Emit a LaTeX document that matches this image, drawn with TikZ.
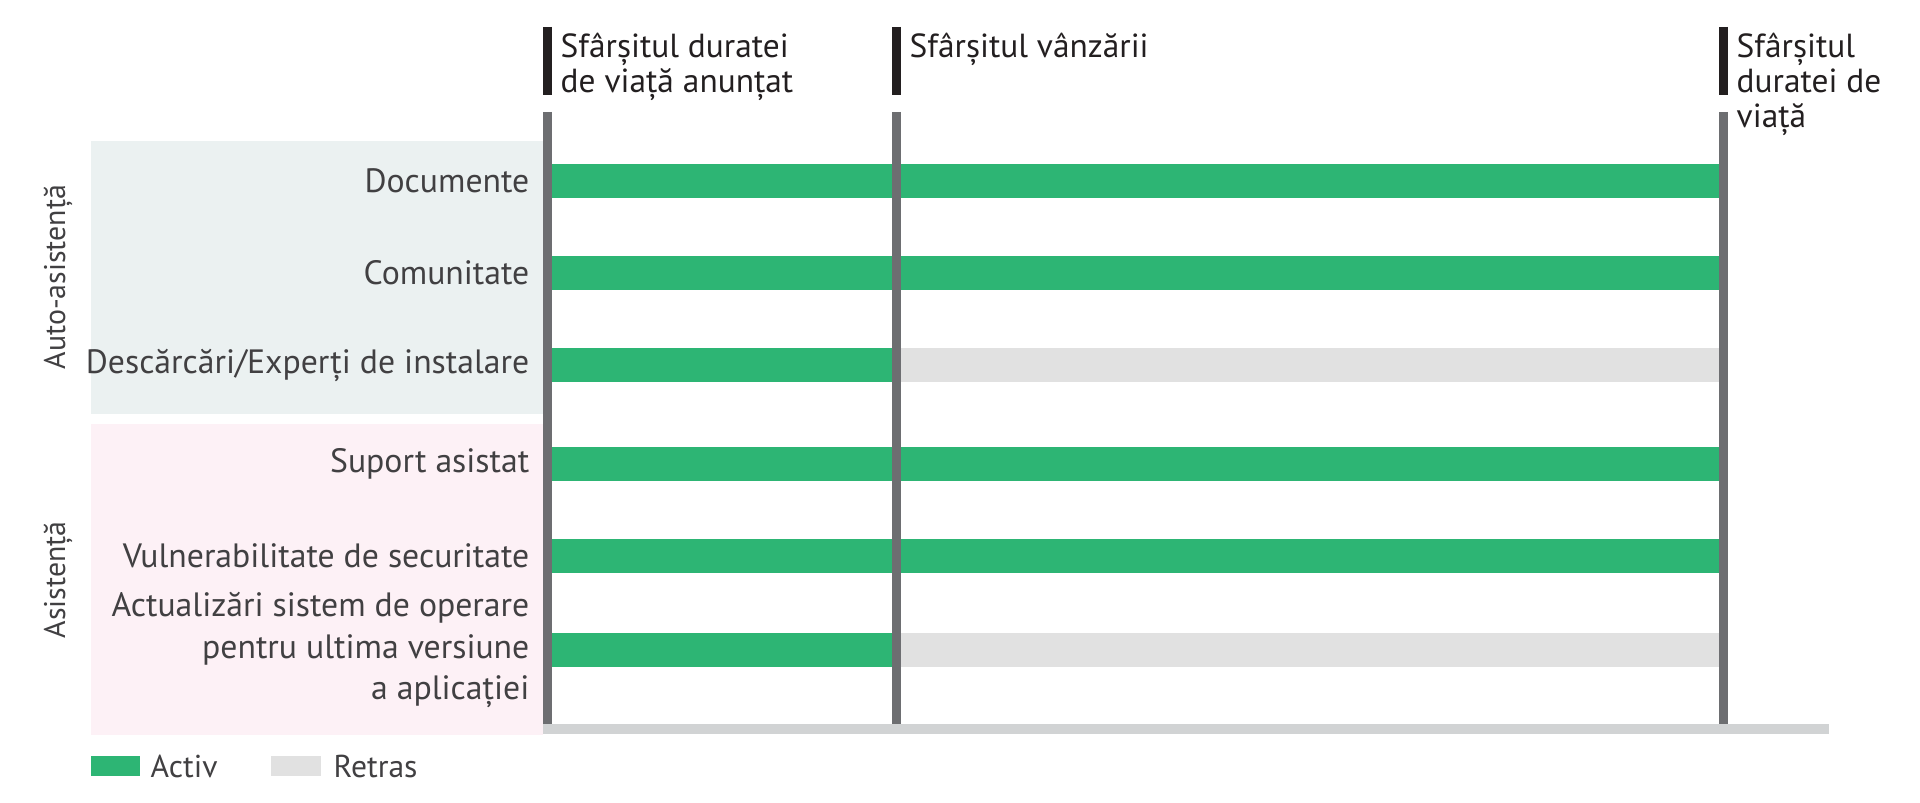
\documentclass[tikz,border=0pt]{standalone}
\usepackage{fontspec}
\setmainfont{PT Sans}
\usepackage{tikz}
\usetikzlibrary{positioning}
\definecolor{cvverde}{HTML}{2DB574}
\definecolor{cvretras}{HTML}{E1E1E1}
\definecolor{cvlinie}{HTML}{6D6E71}
\definecolor{cvnegru}{HTML}{231F20}
\definecolor{cvax}{HTML}{D1D3D4}
\definecolor{cvauto}{HTML}{EBF1F1}
\definecolor{cvasist}{HTML}{FDF1F6}
\definecolor{cvtext}{HTML}{414042}
\tikzset{
  cvactiv/.style={fill=cvverde, draw=none},
  cvinactiv/.style={fill=cvretras, draw=none},
  cvlinieverticala/.style={draw=cvlinie, line width=0.9mm},
  cvmarcaj/.style={draw=cvnegru, line width=0.9mm},
  cveticheta/.style={anchor=east, align=right, inner sep=0pt, text=cvtext,
                  font=\fontsize{9.6}{11.9}\selectfont},
  cvetapa/.style={anchor=north west, align=left, inner sep=0pt, text=cvnegru,
                  font=\fontsize{9.5}{9.96}\selectfont},
  cvgrup/.style={rotate=90, inner sep=0pt, text=cvtext, font=\fontsize{8.5}{10}\selectfont},
  cvlegenda/.style={anchor=west, inner sep=0pt, text=cvtext, font=\fontsize{9}{10}\selectfont},
}

\begin{document}
\begin{tikzpicture}
            \useasboundingbox (0,0) rectangle (19.20,-8.03);
            % panouri de fundal
            \fill[cvauto] (0.91,-1.41) rectangle (5.43,-4.14);
            \fill[cvasist] (0.91,-4.24) rectangle (5.43,-7.35);
            \node[cvgrup] (auto) at (0.58,-2.77) {Auto-asistență};
            \node[cvgrup] (asist) at (0.58,-5.80) {Asistență};
            % bare
            \fill[cvactiv] (5.475,-1.64) rectangle (17.235,-1.98);
            \fill[cvactiv] (5.475,-2.56) rectangle (17.235,-2.90);
            \fill[cvactiv] (5.475,-3.48) rectangle (8.965,-3.82);
            \fill[cvinactiv] (8.965,-3.48) rectangle (17.235,-3.82);
            \fill[cvactiv] (5.475,-4.47) rectangle (17.235,-4.81);
            \fill[cvactiv] (5.475,-5.39) rectangle (17.235,-5.73);
            \fill[cvactiv] (5.475,-6.33) rectangle (8.965,-6.67);
            \fill[cvinactiv] (8.965,-6.33) rectangle (17.235,-6.67);
            \node[cveticheta] (doc) at (5.30,-1.81) {Documente};
            \node[cveticheta] (com) at (5.30,-2.73) {Comunitate};
            \node[cveticheta] (desc) at (5.30,-3.65) {Descărcări/Experți de instalare};
            \node[cveticheta] (sup) at (5.30,-4.64) {Suport asistat};
            \node[cveticheta] (vuln) at (5.30,-5.56) {Vulnerabilitate de securitate};
            \node[cveticheta] (act) at (5.30,-6.50) {Actualizări sistem de operare\\pentru ultima versiune\\a aplicației};
            % axa si etape
            \draw[draw=cvax, line width=1mm] (5.43,-7.29) -- (18.29,-7.29);
            \draw[cvlinieverticala] (5.475,-1.12) -- (5.475,-7.24);
            \draw[cvlinieverticala] (8.965,-1.12) -- (8.965,-7.24);
            \draw[cvlinieverticala] (17.235,-1.12) -- (17.235,-7.24);
            \draw[cvmarcaj] (5.475,-0.27) -- (5.475,-0.95);
            \draw[cvmarcaj] (8.965,-0.27) -- (8.965,-0.95);
            \draw[cvmarcaj] (17.235,-0.27) -- (17.235,-0.95);
            \node[cvetapa] (anuntat) at (5.60,-0.32) {Sfârșitul duratei\\de viață anunțat};
            \node[cvetapa] (vanzare) at (9.09,-0.32) {Sfârșitul vânzării};
            \node[cvetapa] (sfarsit) at (17.36,-0.32) {Sfârșitul\\duratei de\\viață};
            % legenda
            \fill[cvactiv] (0.91,-7.56) rectangle (1.40,-7.76);
            \node[cvlegenda] (activ) at (1.50,-7.66) {Activ};
            \fill[cvinactiv] (2.71,-7.56) rectangle (3.21,-7.76);
            \node[cvlegenda] (retras) at (3.33,-7.66) {Retras};
        \end{tikzpicture}
\end{document}
